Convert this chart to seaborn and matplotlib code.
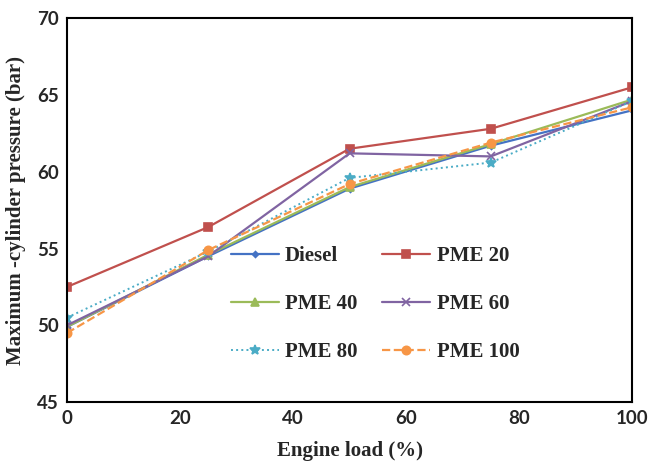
import pandas as pd
import seaborn as sns
import matplotlib.pyplot as plt

load = [0, 25, 50, 75, 100]
diesel = [49.9, 54.5, 58.9, 61.7, 64.0]
pme20 = [52.5, 56.4, 61.5, 62.8, 65.5]
pme40 = [49.9, 54.6, 59.0, 61.8, 64.7]
pme60 = [50.0, 54.5, 61.2, 61.0, 64.6]
pme80 = [50.5, 54.8, 59.6, 60.6, 64.6]
pme100 = [49.5, 54.9, 59.2, 61.9, 64.2]

series = {
    'Diesel': diesel,
    'PME 20': pme20,
    'PME 40': pme40,
    'PME 60': pme60,
    'PME 80': pme80,
    'PME 100': pme100,
}

styles = {
    'Diesel': dict(color='#4472C4', marker='D', markersize=3, linestyle='-', linewidth=1.6),
    'PME 20': dict(color='#C0504D', marker='s', markersize=6, linestyle='-', linewidth=1.6),
    'PME 40': dict(color='#9BBB59', marker='^', markersize=6, linestyle='-', linewidth=1.6),
    'PME 60': dict(color='#8064A2', marker='x', markersize=6, linestyle='-', linewidth=1.6),
    'PME 80': dict(color='#4BACC6', marker='*', markersize=7, linestyle=':', linewidth=1.4),
    'PME 100': dict(color='#F79646', marker='o', markersize=6, linestyle='--', linewidth=1.6),
}

sns.set_style('white')
plt.rcParams['font.family'] = ['Liberation Serif', 'DejaVu Serif']

fig = plt.figure(figsize=(6.48, 4.67), dpi=100)
ax = fig.add_axes([0.1034, 0.139, 0.872, 0.822])

for name, vals in series.items():
    df = pd.DataFrame({'load': load, 'p': vals})
    st = styles[name]
    sns.lineplot(data=df, x='load', y='p', ax=ax, label=name,
                 color=st['color'], marker=st['marker'], markersize=st['markersize'],
                 linestyle=st['linestyle'], linewidth=st['linewidth'],
                 markeredgecolor=st['color'], markeredgewidth=1.2)

ax.set_xlim(0, 100)
ax.set_ylim(45, 70)
ax.set_xticks([0, 20, 40, 60, 80, 100])
ax.set_yticks([45, 50, 55, 60, 65, 70])
for lbl in ax.get_xticklabels() + ax.get_yticklabels():
    lbl.set_fontfamily(['Lato', 'DejaVu Sans'])
    lbl.set_fontweight('bold')
    lbl.set_fontsize(13.5)
ax.tick_params(axis='both', length=0, pad=6)
ax.set_xlabel('Engine load (%)', fontsize=15, fontweight='bold', labelpad=10)
ax.set_ylabel('Maximum -cylinder pressure (bar)', fontsize=15, fontweight='bold', labelpad=8)
for s in ax.spines.values():
    s.set_color('black')
    s.set_linewidth(1.5)

# row-wise legend order: Diesel / PME 20, PME 40 / PME 60, PME 80 / PME 100
handles, labels = ax.get_legend_handles_labels()
order = [0, 2, 4, 1, 3, 5]
ax.legend([handles[i] for i in order], [labels[i] for i in order],
          ncol=2, frameon=False, loc='center', bbox_to_anchor=(0.545, 0.255),
          prop={'weight': 'bold', 'size': 15}, handlelength=2.3,
          columnspacing=1.2, labelspacing=1.35, handletextpad=0.3)

fig.savefig('out.png', dpi=100)
